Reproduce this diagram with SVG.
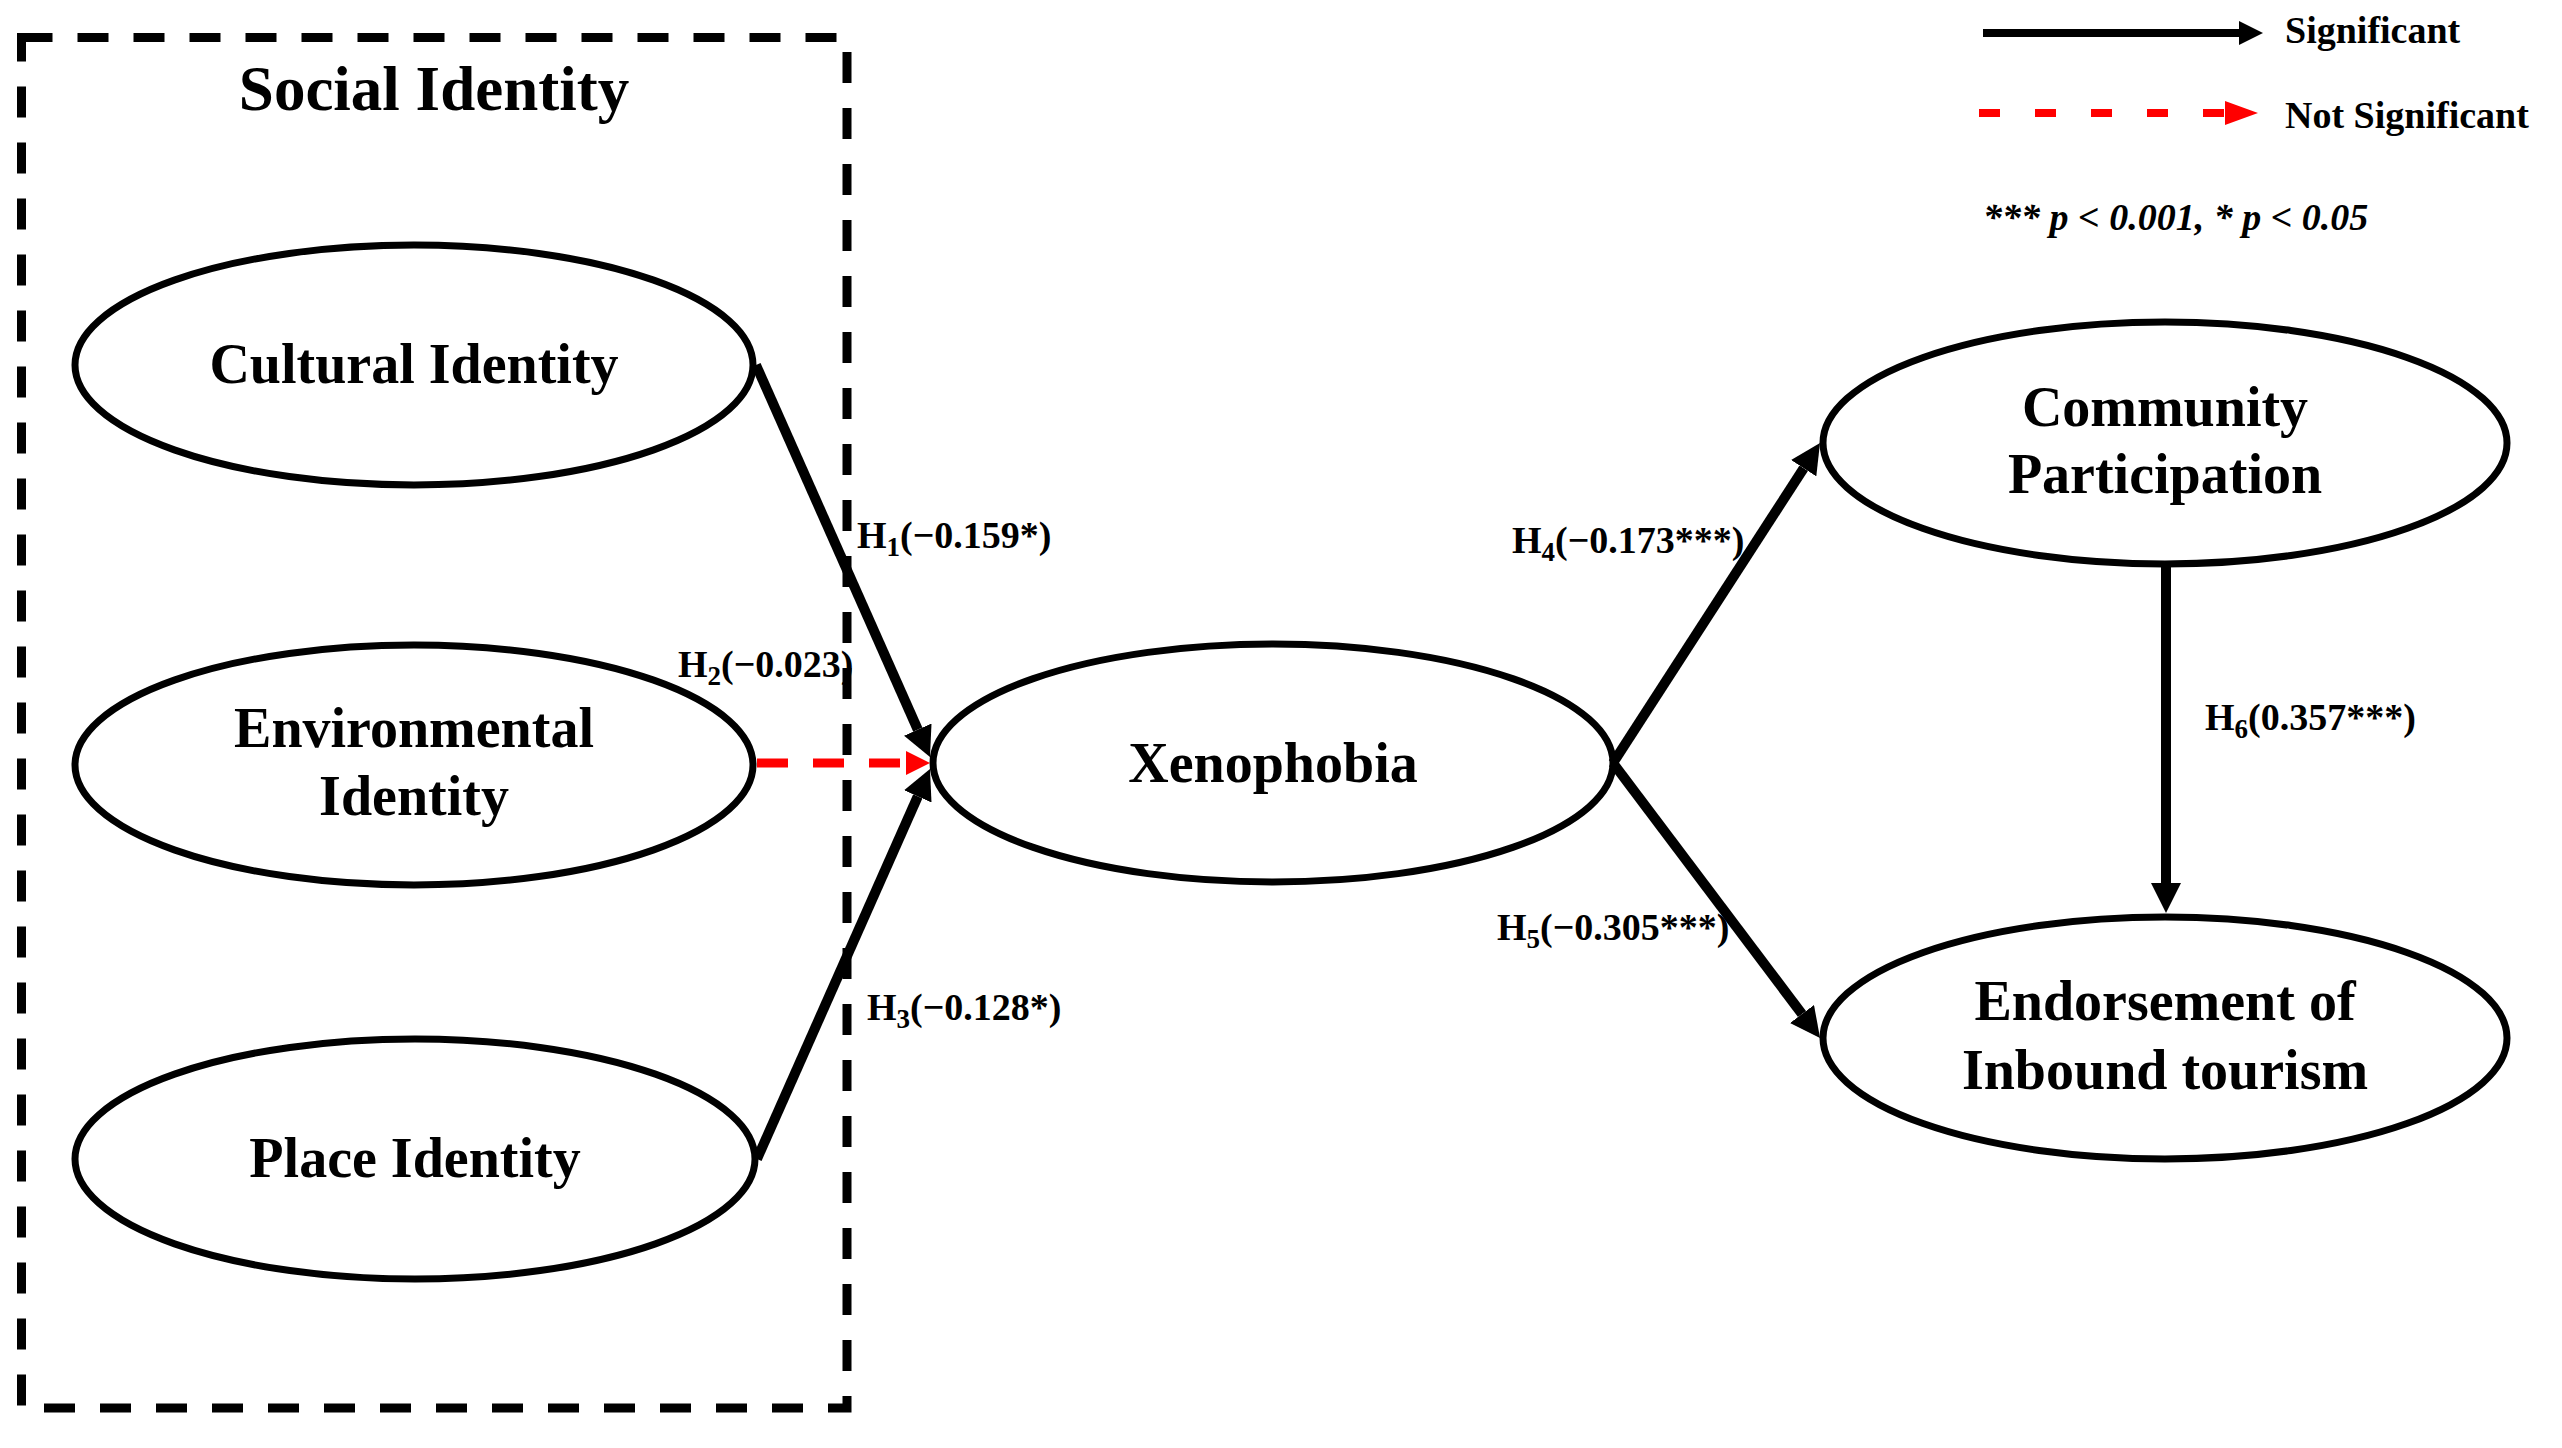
<svg xmlns="http://www.w3.org/2000/svg" width="2562" height="1448" viewBox="0 0 2562 1448">
  <style>
    text { font-family: "Liberation Serif", "Times New Roman", serif; font-weight: bold; fill: #000; }
    .node { fill: #fff; stroke: #000; stroke-width: 7; }
    .nl { font-size: 56px; text-anchor: middle; }
    .lbl { font-size: 38px; }
    .sub { font-size: 27px; }
    .sig { stroke: #000; stroke-width: 10; fill: none; }
    .ns { stroke: #ff0000; stroke-width: 9; fill: none; stroke-dasharray: 31 25; }
    .leg { font-size: 38px; }
  </style>
  <defs>
    <marker id="ah" markerUnits="userSpaceOnUse" viewBox="0 0 30 30" refX="0" refY="15" markerWidth="30" markerHeight="30" orient="auto">
      <path d="M0,0 L30,15 L0,30 z" fill="#000"/>
    </marker>
    <marker id="ahr" markerUnits="userSpaceOnUse" viewBox="0 0 24 24" refX="0" refY="12" markerWidth="24" markerHeight="24" orient="auto">
      <path d="M0,0 L24,12 L0,24 z" fill="#ff0000"/>
    </marker>
    <marker id="ahl" markerUnits="userSpaceOnUse" viewBox="0 0 24 24" refX="0" refY="12" markerWidth="24" markerHeight="24" orient="auto">
      <path d="M0,0 L24,12 L0,24 z" fill="#000"/>
    </marker>
    <marker id="ahlr" markerUnits="userSpaceOnUse" viewBox="0 0 33 24" refX="0" refY="12" markerWidth="33" markerHeight="24" orient="auto">
      <path d="M0,0 L33,12 L0,24 z" fill="#ff0000"/>
    </marker>
  </defs>
  <rect width="2562" height="1448" fill="#fff"/>

  <g id="social-identity">
    <rect x="21.5" y="37.5" width="825.5" height="1370.5" fill="none" stroke="#000" stroke-width="9" stroke-dasharray="31 25"/>
    <text x="434" y="110" style="font-size:63px" text-anchor="middle">Social Identity</text>
  </g>

  <g id="cultural-identity">
    <ellipse class="node" cx="414" cy="365" rx="339" ry="120"/>
    <text class="nl" x="414" y="383">Cultural Identity</text>
  </g>
  <g id="environmental-identity">
    <ellipse class="node" cx="414" cy="765" rx="339" ry="120"/>
    <text class="nl" x="414" y="747">Environmental</text>
    <text class="nl" x="414" y="815">Identity</text>
  </g>
  <g id="place-identity">
    <ellipse class="node" cx="415" cy="1159" rx="340" ry="120"/>
    <text class="nl" x="415" y="1177">Place Identity</text>
  </g>
  <g id="xenophobia">
    <ellipse class="node" cx="1273" cy="763" rx="340" ry="119"/>
    <text class="nl" x="1273" y="782">Xenophobia</text>
  </g>
  <g id="community-participation">
    <ellipse class="node" cx="2165" cy="443" rx="342" ry="121"/>
    <text class="nl" x="2165" y="426">Community</text>
    <text class="nl" x="2165" y="493">Participation</text>
  </g>
  <g id="endorsement">
    <ellipse class="node" cx="2165" cy="1038" rx="342" ry="121"/>
    <text class="nl" x="2165" y="1020">Endorsement of</text>
    <text class="nl" x="2165" y="1089">Inbound tourism</text>
  </g>

  <g id="connectors">
    <line class="sig" x1="756" y1="365" x2="917.8" y2="729.6" marker-end="url(#ah)"/>
    <line class="ns" x1="757" y1="763" x2="906" y2="763" marker-end="url(#ahr)"/>
    <line class="sig" x1="757" y1="1159" x2="917.8" y2="796.4" marker-end="url(#ah)"/>
    <line class="sig" x1="1613" y1="763" x2="1803.7" y2="468.2" marker-end="url(#ah)"/>
    <line class="sig" x1="1613" y1="763" x2="1802" y2="1014" marker-end="url(#ah)"/>
    <line class="sig" x1="2166" y1="567" x2="2166" y2="883" marker-end="url(#ah)"/>
  </g>

  <g id="labels">
    <text class="lbl" x="857" y="548">H<tspan class="sub" dy="8">1</tspan><tspan dy="-8">(−0.159*)</tspan></text>
    <text class="lbl" x="678" y="677">H<tspan class="sub" dy="8">2</tspan><tspan dy="-8">(−0.023)</tspan></text>
    <text class="lbl" x="867" y="1020">H<tspan class="sub" dy="8">3</tspan><tspan dy="-8">(−0.128*)</tspan></text>
    <text class="lbl" x="1512" y="553">H<tspan class="sub" dy="8">4</tspan><tspan dy="-8">(−0.173***)</tspan></text>
    <text class="lbl" x="1497" y="940">H<tspan class="sub" dy="8">5</tspan><tspan dy="-8">(−0.305***)</tspan></text>
    <text class="lbl" x="2205" y="730">H<tspan class="sub" dy="8">6</tspan><tspan dy="-8">(0.357***)</tspan></text>
  </g>

  <g id="legend">
    <line x1="1983" y1="33" x2="2239" y2="33" stroke="#000" stroke-width="8" marker-end="url(#ahl)"/>
    <text class="leg" x="2285" y="43">Significant</text>
    <line x1="1979" y1="113" x2="2225" y2="113" stroke="#ff0000" stroke-width="8" stroke-dasharray="21 35" marker-end="url(#ahlr)"/>
    <text class="leg" x="2285" y="128">Not Significant</text>
    <text x="1983" y="230" style="font-size:38px;font-style:italic">*** p &lt; 0.001, * p &lt; 0.05</text>
  </g>
</svg>
